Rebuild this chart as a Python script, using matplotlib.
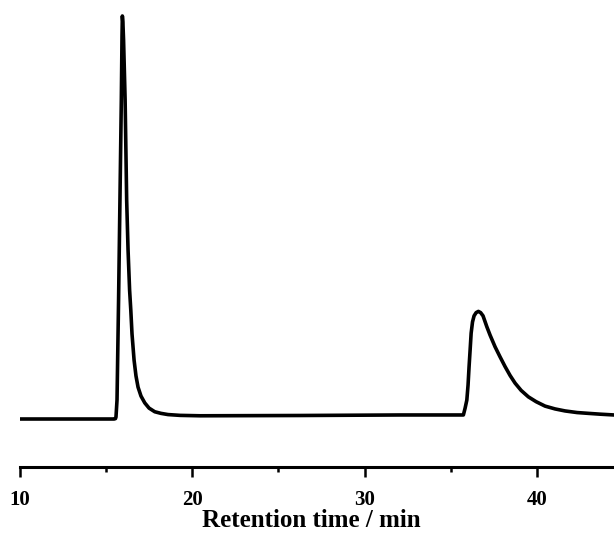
import matplotlib
matplotlib.use("Agg")
import matplotlib.pyplot as plt
from matplotlib.ticker import MultipleLocator

# Retention time (min) and detector signal (arbitrary units)
time_min = [10.00, 15.46, 15.54, 15.57, 15.63, 15.72, 15.80, 15.88, 15.92, 15.94,
            15.97, 16.01, 16.10, 16.19, 16.27, 16.36, 16.43, 16.50, 16.62, 16.73,
            16.85, 17.02, 17.24, 17.49, 17.82, 18.18, 18.59, 19.29, 20.45, 26.25,
            32.05, 35.54, 35.73, 35.83, 35.93, 36.00, 36.06, 36.12, 36.18, 36.26,
            36.35, 36.47, 36.60, 36.73, 36.87, 37.09, 37.28, 37.57, 37.86, 38.15,
            38.44, 38.73, 39.08, 39.50, 39.95, 40.47, 41.05, 41.63, 42.33, 42.98,
            43.66, 44.47]
signal = [0.0, 0.0, 0.1, 0.5, 4.7, 29.5, 54.3, 79.2, 95.0, 100.0,
          98.5, 94.0, 79.2, 54.3, 42.0, 32.0, 27.0, 21.1, 14.6, 10.7,
          7.9, 5.7, 4.0, 2.7, 1.8, 1.4, 1.1, 0.9, 0.8, 0.87,
          1.0, 1.0, 1.0, 2.7, 4.7, 8.4, 13.0, 17.1, 21.3, 24.1,
          25.6, 26.4, 26.7, 26.4, 25.6, 22.9, 20.8, 17.9, 15.4, 13.0,
          10.8, 8.9, 7.1, 5.5, 4.3, 3.2, 2.5, 2.0, 1.6, 1.4,
          1.2, 1.0]

xticks_major = [10, 20, 30, 40]
xlabel = "Retention time / min"

fig = plt.figure(figsize=(6.14, 5.34), dpi=100)
ax = fig.add_axes([20 / 614, 67 / 534, 594 / 614, (534 - 67 - 5) / 534])

ax.plot(time_min, signal, color="black", lw=2.6,
        solid_joinstyle="round", solid_capstyle="round")

ax.set_xlim(10, 44.47)
ax.set_ylim(-11.91, 102.73)

for s in ["top", "right", "left"]:
    ax.spines[s].set_visible(False)
ax.spines["bottom"].set_linewidth(2.2)
ax.set_yticks([])

ax.set_xticks(xticks_major)
ax.xaxis.set_minor_locator(MultipleLocator(5))
ax.tick_params(axis="x", which="major", length=7, width=1.8, direction="out", pad=9.5)
ax.tick_params(axis="x", which="minor", length=3.5, width=1.8, direction="out")

for lab in ax.get_xticklabels():
    lab.set_fontfamily("Liberation Serif")
    lab.set_fontweight("bold")
    lab.set_fontsize(15)

ax.set_xlabel(xlabel, fontfamily="Liberation Serif", fontweight="bold", fontsize=18)
ax.xaxis.label.set_va("baseline")
ax.xaxis.set_label_coords(0.491, (467 - 527) / 462)

fig.savefig("out.png", dpi=100)
